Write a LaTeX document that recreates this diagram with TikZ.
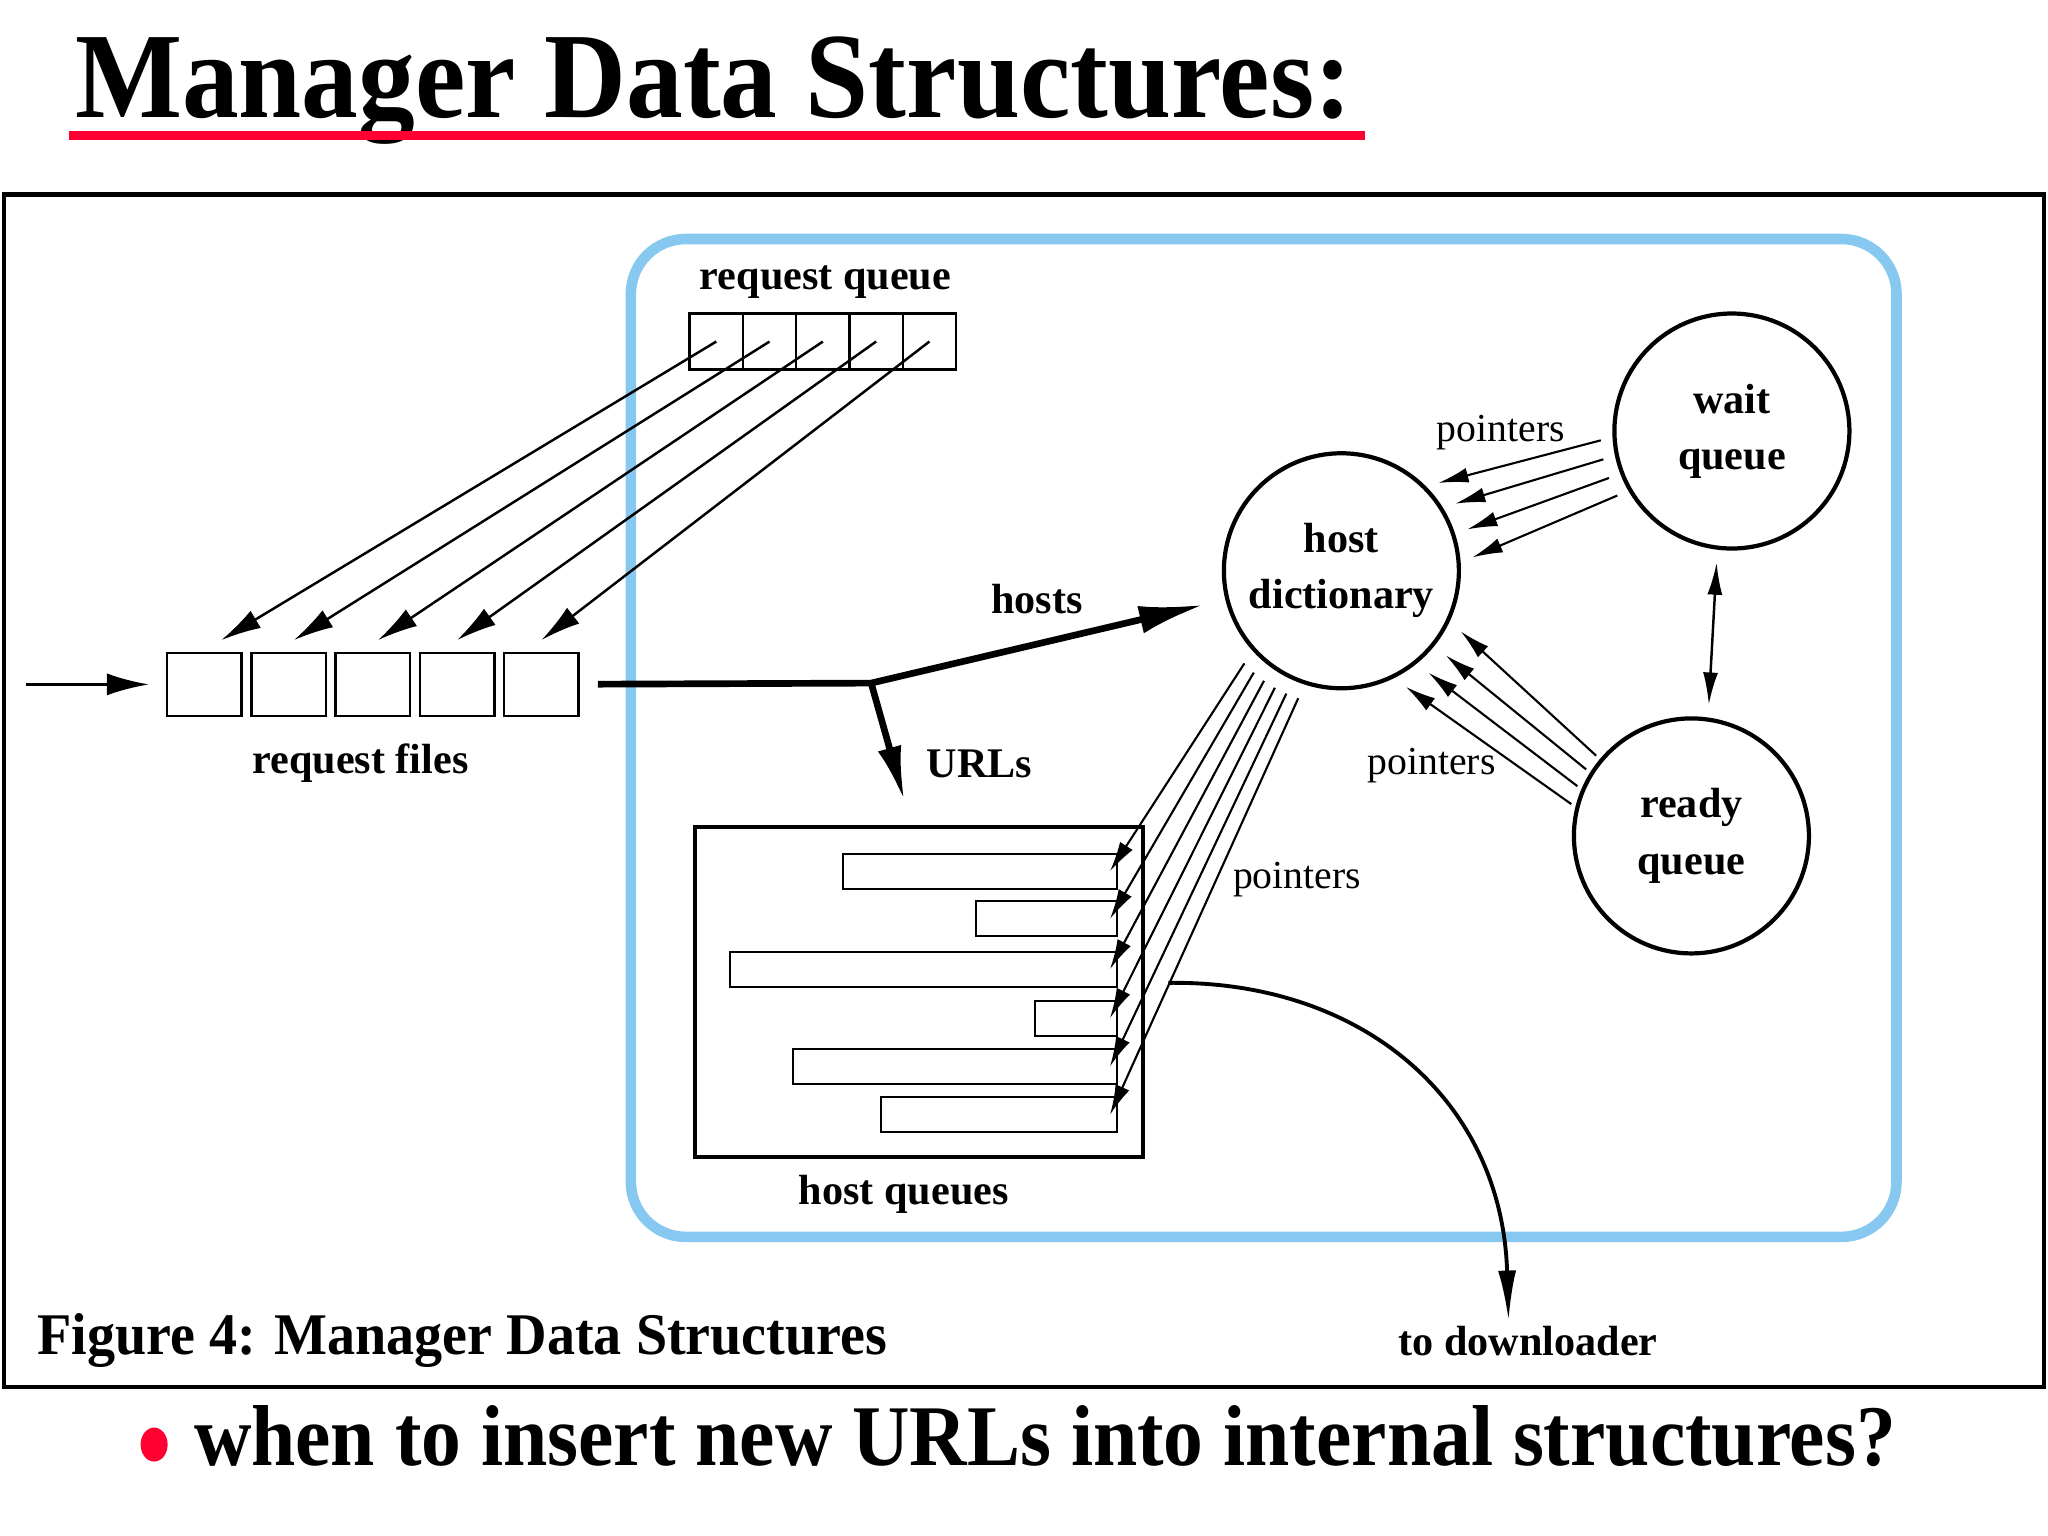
\documentclass[tikz,border=0pt]{standalone}
\usepackage{fontspec}
\setmainfont{Liberation Serif}
\usetikzlibrary{arrows.meta,calc,shapes.geometric}

\definecolor{slidered}{RGB}{255,0,51}
\definecolor{framebl}{RGB}{135,200,240}

\begin{document}
\begin{tikzpicture}[x=0.13061mm, y=-0.13061mm,
  lbl/.style={font=\bfseries\fontsize{12}{14}\selectfont, inner sep=0pt, anchor=base},
  ptrlbl/.style={font=\fontsize{11.3}{13}\selectfont, inner sep=0pt, anchor=base},
  cell/.style={draw, line width=0.7pt, minimum width=5.33mm, minimum height=5.62mm, inner sep=0pt},
  fcell/.style={draw, line width=0.7pt, minimum width=7.44mm, minimum height=6.27mm, inner sep=0pt},
  bar/.style={draw, line width=0.6pt, minimum height=3.5mm, inner sep=0pt, anchor=east},
  queue/.style={draw, circle, line width=1.2pt, minimum size=23.5mm, inner sep=0pt, align=center,
    font=\bfseries\fontsize{12}{16}\selectfont},
  thin/.style={line width=0.7pt, -{Latex[length=4mm,width=2mm]}},
  ptr/.style={line width=0.6pt, -{Latex[length=3mm,width=1.5mm]}},
  fat/.style={line width=1.9pt}
]
\useasboundingbox (0,0) rectangle (1568,1176);

\node[anchor=base west, inner sep=0pt, font=\bfseries\fontsize{34.7}{40}\selectfont] (title) at (57,90)
  {\scalebox{0.93}[1]{Manager Data Structures:}};
\draw[slidered, line width=2.6pt] (53,103.5) -- (1045,103.5);

\draw[line width=1.3pt] (3,149) rectangle (1565,1062);
\draw[framebl, line width=3pt, rounded corners=5.5mm] (483,183) rectangle (1452,947);

% request queue and request files
\node[lbl] (rqlabel) at (632,222) {request queue};
\foreach \i in {1,...,5}
  \node[cell] (reqq\i) at ({507.6+40.8*\i},261.5) {};
\foreach \i in {1,...,5}
  \node[fcell] (reqf\i) at ({92+64.5*\i},524) {};
\node[lbl] (rflabel) at (276,592) {request files};
\foreach \i/\dx in {1/13, 2/4, 3/4, 4/0, 5/0}
  \draw[thin] (reqq\i.center) -- ([shift={(\dx,-9)}]reqf\i.north);

\coordinate (feed) at (20,524);
\draw[line width=0.8pt, -{Latex[length=4.2mm,width=2.2mm]}, shorten >=1.7mm] (feed) -- (reqf1);

% queues
\node[queue] (hostdict) at (1027,437) {host\\dictionary};
\node[queue] (waitq) at (1326,330) {wait\\queue};
\node[queue] (readyq) at (1295,640) {ready\\queue};

\node[draw, line width=1.2pt, minimum width=44.8mm, minimum height=33.04mm, inner sep=0pt] (hostq) at (703.5,759.5) {};
\node[lbl] (hqlabel) at (692,922) {host queues};
\foreach \l/\y [count=\i] in {646/667, 748/703.5, 560/742, 793/779.5, 608/816.5, 675/853.5}
  \node[bar, minimum width={(856-\l)*0.13061mm}] (bar\i) at (856,\y) {};

\coordinate (split) at (667,523);
\draw[fat, shorten <=1.8mm] (reqf5) -- (split);
\draw[fat, -{Latex[length=6.5mm,width=2.8mm]}, shorten >=2.2mm] (split) -- (hostdict.194);
\draw[fat, -{Latex[length=5.5mm,width=2.4mm]}] (split) -- ($(hostq.north)+(-11,-18)$);
\node[lbl] (hostslbl) at (794,470) {hosts};
\node[lbl] (urlslbl) at (750,595) {URLs};

% pointers
\foreach \a/\b in {183/45, 192/32, 201/18, 210/4}
  \draw[ptr, shorten <=1.2mm, shorten >=1.3mm] (waitq.\a) -- (hostdict.\b);
\foreach \a/\b in {140/335, 148/321, 157/309, 166/296}
  \draw[ptr, shorten <=0.5mm, shorten >=1.5mm] (readyq.\a) -- (hostdict.\b);
\foreach \a [count=\i] in {222,228,234,240,246,252}
  \draw[ptr, shorten <=1.5mm] (hostdict.\a) -- ([xshift=-0.8mm]bar\i.east);
\draw[line width=0.7pt, {Latex[length=3.2mm,width=1.5mm]}-{Latex[length=3.2mm,width=1.5mm]},
  shorten <=1.3mm, shorten >=1.3mm] (waitq.263) -- (readyq.82);
\node[ptrlbl] (ptrwait) at (1149,338) {pointers};
\node[ptrlbl] (ptrready) at (1096,593) {pointers};
\node[ptrlbl] (ptrqueues) at (993,680) {pointers};

% downloader
\node[lbl] (todl) at (1170,1038) {to downloader};
\draw[line width=1.1pt, -{Latex[length=5mm,width=1.8mm]}] ([shift={(18,-7)}]hostq.east)
  .. controls +(147,-2) and +(-5,-170) .. ([shift={(-15,-4)}]todl.north);

\node[anchor=base west, inner sep=0pt, font=\bfseries\fontsize{16.8}{20}\selectfont] (caption) at (28,1037)
  {\scalebox{0.95}[1]{Figure 4: Manager Data Structures}};

\node[ellipse, fill=slidered, minimum width=2.7mm, minimum height=3.4mm, inner sep=0pt] (dot) at (118,1106) {};
\node[anchor=base west, inner sep=0pt, font=\bfseries\fontsize{24.6}{30}\selectfont] (question) at (148,1122)
  {\scalebox{0.92}[1]{when to insert new URLs into internal structures?}};
\end{tikzpicture}
\end{document}
